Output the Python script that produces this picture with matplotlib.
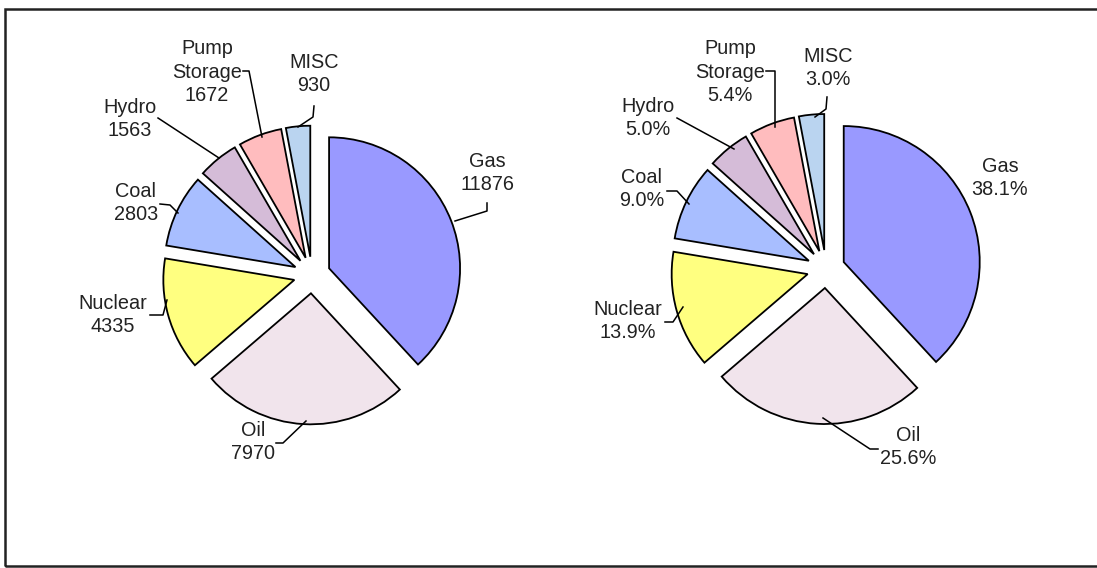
import matplotlib
matplotlib.use("Agg")
import matplotlib.pyplot as plt
from matplotlib.patches import Rectangle

# ---- data ----
categories = ["Gas", "Oil", "Nuclear", "Coal", "Hydro", "Pump\nStorage", "MISC"]
values = [11876, 7970, 4335, 2803, 1563, 1672, 930]
percent_labels = ["38.1%", "25.6%", "13.9%", "9.0%", "5.0%", "5.4%", "3.0%"]
colors = ["#9999FF", "#F1E4EC", "#FFFF80", "#A8BEFF", "#D5BCD8", "#FFBCBE", "#BAD4F0"]

W, H = 1097, 568
plt.rcParams["font.family"] = ["Liberation Sans", "DejaVu Sans"]
fig = plt.figure(figsize=(W / 100, H / 100), dpi=100)
ax = fig.add_axes([0, 0, 1, 1])

def Y(py):
    return H - py

# layout: pie centre (px, py from top), radius, explode fraction
pies = [
    dict(center=(312, 275), radius=131, explode=0.14, texts=[f"{c}\n{v}" for c, v in zip(categories, values)],
         labelpos=[(487, 173), (253, 442), (113, 315), (136, 203), (130, 119), (207, 72), (314, 74)],
         leaders=[[(455, 221), (487, 211), (487, 203)],
                  [(306, 421), (283, 443), (276, 443)],
                  [(167, 300), (163, 315), (150, 315)],
                  [(178, 213), (170, 205), (160, 204)],
                  [(219, 158), (158, 118)],
                  [(262, 137), (249, 71), (243, 71)],
                  [(298, 127), (313, 117), (314, 106)]]),
    dict(center=(826, 269), radius=136, explode=0.14, texts=[f"{c}\n{p}" for c, p in zip(categories, percent_labels)],
         labelpos=[(1000, 178), (908, 447), (628, 321), (642, 189), (648, 118), (730, 72), (828, 68)],
         leaders=[None,
                  [(823, 418), (870, 449), (878, 449)],
                  [(683, 307), (673, 322), (665, 322)],
                  [(689, 204), (677, 191), (667, 191)],
                  [(734, 149), (677, 118)],
                  [(775, 127), (775, 71), (766, 71)],
                  [(815, 117), (826, 109), (827, 97)]]),
]

for p in pies:
    cx, cy = p["center"]
    r = p["radius"]
    ax.pie(values, colors=colors, startangle=90, counterclock=False,
           center=(cx, Y(cy)), radius=r, explode=[p["explode"] * r] * len(values),
           wedgeprops=dict(edgecolor="black", linewidth=1.3), frame=True)
    for txt, (lx, ly) in zip(p["texts"], p["labelpos"]):
        ax.text(lx, Y(ly), txt, ha="center", va="center", fontsize=14.3,
                color="#222222", linespacing=1.3)
    for ld in p["leaders"]:
        if ld is None:
            continue
        ax.plot([q[0] for q in ld], [Y(q[1]) for q in ld], color="black", lw=1.1)

ax.set_xlim(0, W)
ax.set_ylim(0, H)
ax.set_aspect("equal")
ax.axis("off")
ax.add_patch(Rectangle((5, Y(566)), W + 10, 566 - 9, fill=False, edgecolor="#222222", lw=1.8, clip_on=True))

fig.savefig("out.png", dpi=100)
